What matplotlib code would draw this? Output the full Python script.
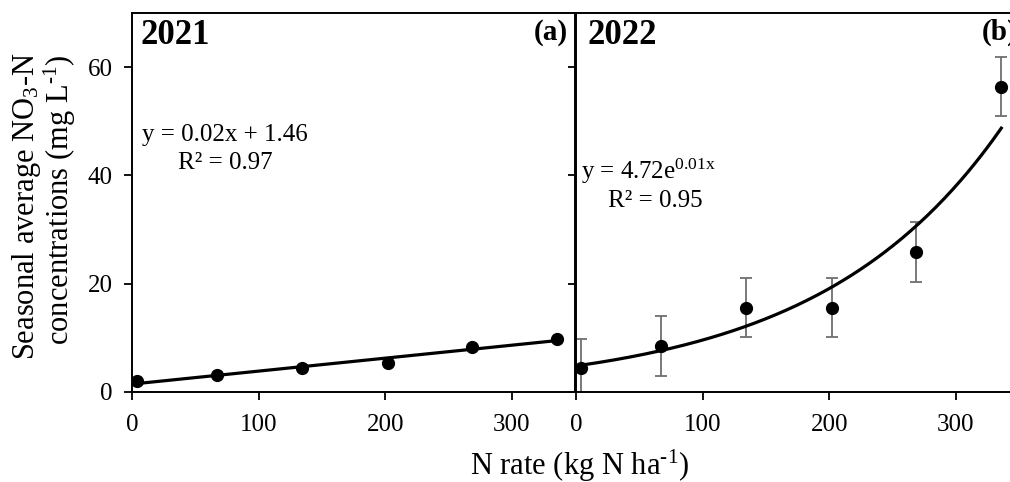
import matplotlib
matplotlib.use("Agg")
import matplotlib.pyplot as plt
import numpy as np

plt.rcParams['font.family'] = ['Liberation Serif', 'DejaVu Serif']
plt.rcParams['mathtext.fontset'] = 'custom'
plt.rcParams['mathtext.rm'] = 'Liberation Serif'
plt.rcParams['mathtext.it'] = 'Liberation Serif:italic'
plt.rcParams['mathtext.bf'] = 'Liberation Serif:bold'

# data
n_rate = [4, 67, 134, 202, 269, 336]
no3_2021 = [2.0, 3.1, 4.4, 5.3, 8.4, 9.8]
no3_2022 = [4.4, 8.5, 15.6, 15.6, 25.9, 56.4]
err_2022 = [5.4, 5.5, 5.45, 5.45, 5.5, 5.45]

eq_2021 = "y = 0.02x + 1.46\nR² = 0.97"
eq_2022 = "y = 4.72e$^{\\mathregular{0.01x}}$"
r2_2022 = "R² = 0.95"

fs = 18
W, H = 1010, 482
fig = plt.figure(figsize=(W / 100, H / 100), dpi=100)
ax1 = fig.add_axes([132 / W, 90 / H, 443 / W, 379 / H])
ax2 = fig.add_axes([576 / W, 90 / H, 443 / W, 379 / H])

x = np.array(n_rate, dtype=float)
xs = np.linspace(x.min(), x.max(), 200)

# 2021 linear trend
p = np.polyfit(x, no3_2021, 1)
ax1.plot(xs, np.polyval(p, xs), color='black', lw=2.3, zorder=2)
ax1.plot(x, no3_2021, 'o', color='black', ms=8.5, zorder=3)

# 2022 exponential trend (fit on log y)
q = np.polyfit(x, np.log(no3_2022), 1)
ax2.plot(xs, np.exp(q[1]) * np.exp(q[0] * xs), color='black', lw=2.3, zorder=2)
ax2.errorbar(x, no3_2022, yerr=err_2022, fmt='none', ecolor='#6e6e6e',
             elinewidth=1.3, capsize=4, capthick=1.3, zorder=1)
ax2.plot(x, no3_2022, 'o', color='black', ms=8.5, zorder=3)

for ax in (ax1, ax2):
    ax.set_xlim(0, 350)
    ax.set_ylim(0, 70)
    ax.set_xticks([0, 100, 200, 300])
    ax.set_yticks([0, 20, 40, 60])
    ax.tick_params(direction='out', length=6, width=1.3, labelsize=fs,
                   colors='black')
    ax.tick_params(axis='x', pad=10)
    ax.tick_params(axis='y', pad=8)
    for s in ax.spines.values():
        s.set_linewidth(1.4)
        s.set_color('black')
ax2.tick_params(axis='y', labelleft=False)

ax1.text(0.02, 0.985, "2021", transform=ax1.transAxes, fontsize=25,
         fontweight='bold', va='top', ha='left')
ax1.text(0.985, 0.985, "(a)", transform=ax1.transAxes, fontsize=21,
         fontweight='bold', va='top', ha='right')
ax2.text(0.025, 0.985, "2022", transform=ax2.transAxes, fontsize=25,
         fontweight='bold', va='top', ha='left')
ax2.text(0.997, 0.985, "(b)", transform=ax2.transAxes, fontsize=21,
         fontweight='bold', va='top', ha='right')

ax1.text(0.21, 0.642, eq_2021, transform=ax1.transAxes, fontsize=fs,
         ha='center', va='center', linespacing=1.35)
ax2.text(0.011, 0.582, eq_2022, transform=ax2.transAxes, fontsize=fs,
         ha='left', va='center')
ax2.text(0.072, 0.505, r2_2022, transform=ax2.transAxes, fontsize=fs,
         ha='left', va='center')

fig.text(27 / W, 1 - 206 / H, "Seasonal average NO$_\\mathregular{3}$-N",
         rotation=90, fontsize=22, ha='center', va='center')
fig.text(60 / W, 1 - 200 / H, "concentrations (mg L$^{\\mathregular{\\text{-}1}}$)",
         rotation=90, fontsize=22, ha='center', va='center')
fig.text(580 / W, 1 - 466 / H, "N rate (kg N ha$^{\\mathregular{\\text{-}1}}$)",
         fontsize=22, ha='center', va='center')

fig.savefig("out.png", dpi=100)
